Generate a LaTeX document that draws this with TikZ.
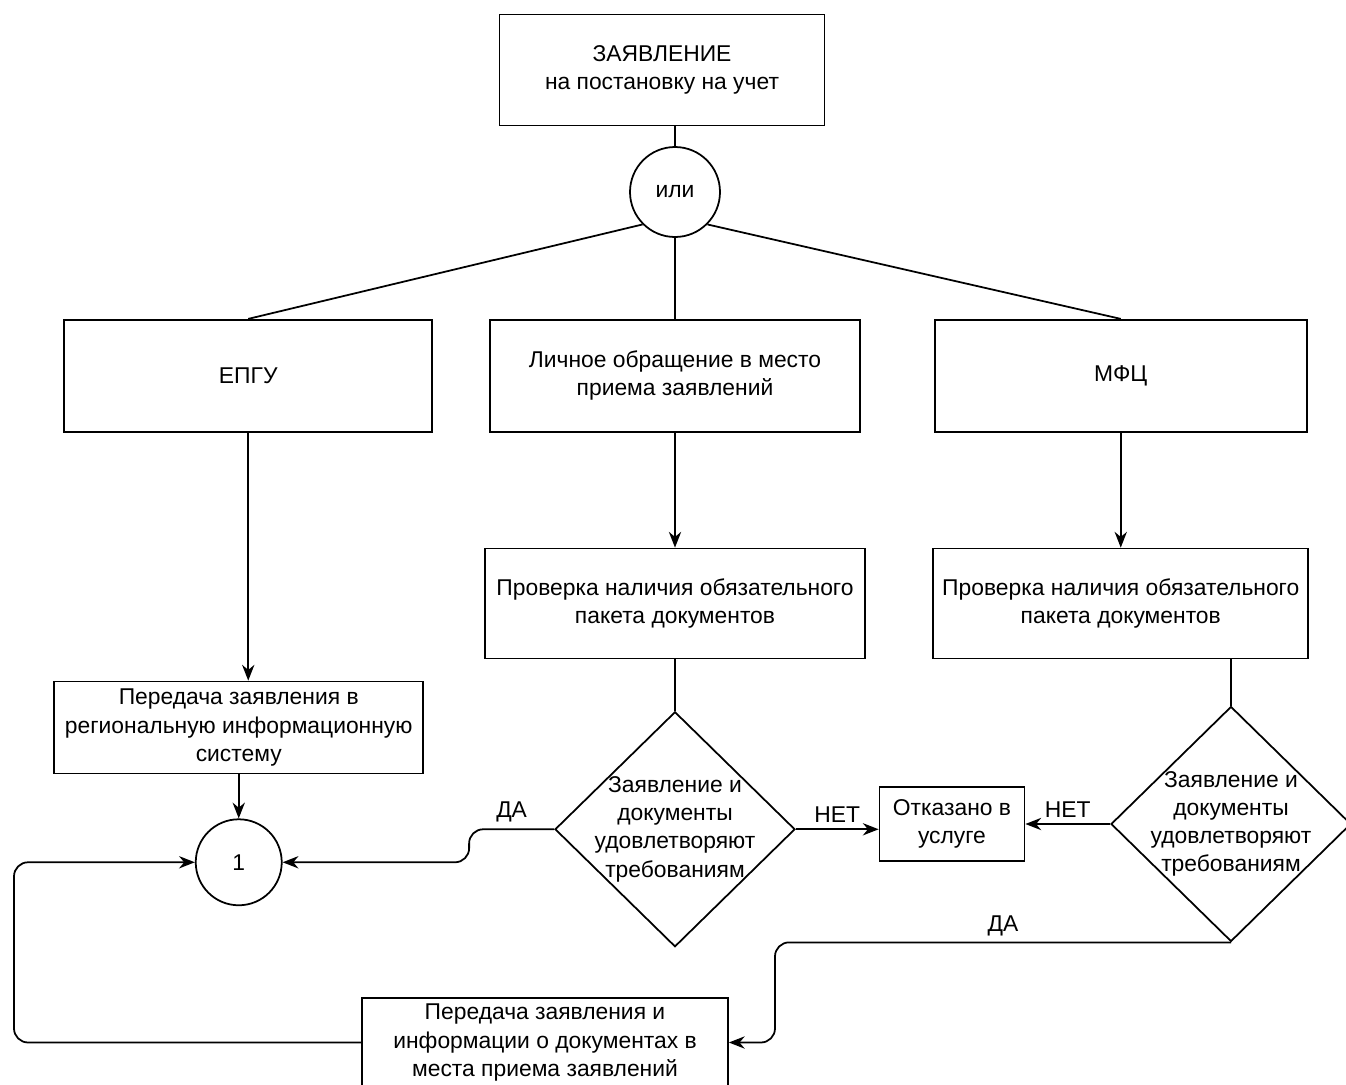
\documentclass[tikz,border=0pt]{standalone}
\usepackage{fontspec}
\setmainfont{Liberation Sans}
\usetikzlibrary{shapes.geometric, arrows.meta, positioning, calc}

\begin{document}
\begin{tikzpicture}[
        node distance=1cm and 1.2cm,
        box/.style={rectangle, draw, line width=1pt, align=center, font=\fontsize{13}{16}\selectfont},
        junction/.style={circle, draw, line width=1pt, inner sep=0pt, font=\fontsize{13}{16}\selectfont},
        decision/.style={diamond, draw, line width=1pt, minimum width=4.8cm, minimum height=4.7cm, inner sep=0pt},
        dtext/.style={align=center, inner sep=0pt, font=\fontsize{13}{16}\selectfont},
        answer/.style={above, font=\fontsize{13}{16}\selectfont},
        line/.style={line width=1pt},
        arrow/.style={line width=1pt, -{Stealth[length=9pt, width=7pt]}}
        ]
        \useasboundingbox (0,0) rectangle (26.92,-21.7);

        \node[box, minimum width=6.5cm, minimum height=2.22cm] (claim) at (13.24,-1.4) {ЗАЯВЛЕНИЕ\\на постановку на учет};
        \node[junction, minimum size=1.8cm] (ili) at (13.5,-3.84) {или};
        \node[box, minimum width=7.4cm, minimum height=2.24cm, below=1.62cm of ili] (visit) {Личное обращение в место\\приема заявлений};
        \node[box, minimum width=7.36cm, minimum height=2.24cm, left=1.12cm of visit] (epgu) {ЕПГУ};
        \node[box, minimum width=7.44cm, minimum height=2.24cm, right=1.46cm of visit] (mfc) {МФЦ};

        \node[box, minimum width=7.6cm, minimum height=2.2cm, below=2.3cm of visit] (check1) {Проверка наличия обязательного\\пакета документов};
        \node[box, minimum width=7.5cm, minimum height=2.2cm, below=2.3cm of mfc] (check2) {Проверка наличия обязательного\\пакета документов};
        \node[box, minimum width=7.38cm, minimum height=1.84cm, below=4.96cm of epgu, xshift=-0.19cm] (region) {Передача заявления в\\региональную информационную\\систему};
        \node[junction, minimum size=1.72cm, below=0.88cm of region] (one) {1};

        \node[decision, below=1.03cm of check1, label={[dtext]center:Заявление и\\документы\\удовлетворяют\\требованиям}] (q1) {};
        \node[decision, label={[dtext]center:Заявление и\\документы\\удовлетворяют\\требованиям}] (q2) at (24.62,-16.48) {};
        \node[box, minimum width=2.9cm, minimum height=1.48cm] (refuse) at (19.04,-16.48) {Отказано в\\услуге};
        \node[box, minimum width=7.32cm, minimum height=1.68cm] (transfer) at (10.9,-20.85) {Передача заявления и\\информации о документах в\\места приема заявлений};
        \coordinate (loop) at (0.28,-20.85);

        \draw[line] (claim.south -| ili) -- (ili);
        \draw[line] (ili.south west) -- (epgu.north);
        \draw[line] (ili) -- (visit);
        \draw[line] (ili.south east) -- (mfc.north);
        \draw[arrow] (epgu.south) -- (region.north -| epgu.south);
        \draw[arrow] (visit) -- (check1);
        \draw[arrow] (mfc) -- (check2);
        \draw[arrow] (region) -- (one);
        \draw[line] (check1) -- (q1);
        \draw[line] (check2.south -| q2) -- (q2);
        \draw[arrow] (q1.east) -- node[answer] {НЕТ} (q1.east -| refuse.west);
        \draw[arrow] (q2.west) -- node[answer] {НЕТ} (q2.west -| refuse.east);
        \draw[arrow, rounded corners=8pt] (q1.west) -- node[answer] {ДА} ++(-1.7,0) |- (one.east);
        \draw[arrow, rounded corners=8pt] (q2.south) -- node[answer] {ДА} ++(-9.12,0) |- (transfer.east);
        \draw[arrow, rounded corners=8pt] (transfer.west) -- (loop) |- (one.west);
    \end{tikzpicture}
\end{document}
